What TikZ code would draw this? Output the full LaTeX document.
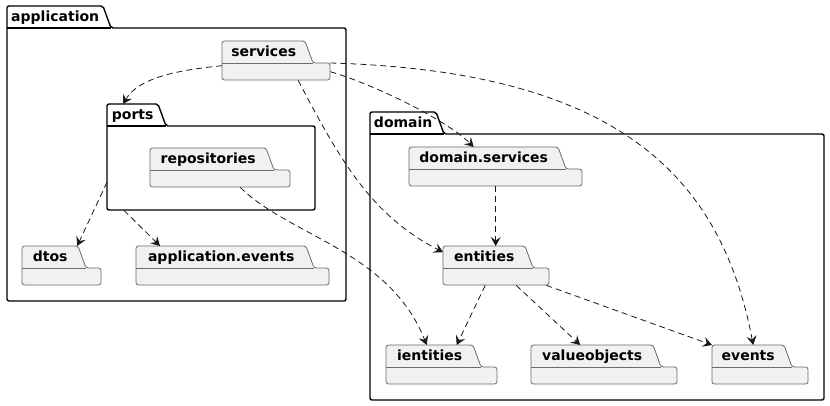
\documentclass[tikz,border=0pt]{standalone}
\usepackage{fontspec}
\setmainfont{DejaVu Sans}
\usetikzlibrary{arrows.meta}
\definecolor{pkgfill}{HTML}{F1F1F1}
\definecolor{pkgline}{HTML}{6B6B6B}
\definecolor{depline}{HTML}{181818}
% package: style, name, label, x, y (tab top), tab width, width, body height
\newcommand{\umlpkg}[8]{%
  \draw[#1] (#4,#5+22) -- (#4,#5) -- (#4+#6,#5) -- (#4+#6+8,#5+22)
    -- (#4+#7,#5+22) -- (#4+#7,#5+22+#8) -- (#4,#5+22+#8) -- cycle;
  \draw[#1, fill=none] (#4,#5+22) -- (#4+#6+8,#5+22);
  \node[pkgtab, minimum width=#6] (#2-tab) at (#4,#5) {#3};
  \node[pkgbody, minimum width=#7, minimum height=#8] (#2) at (#4,#5+22) {};
}
\begin{document}
\begin{tikzpicture}[x=1pt,y=-1pt,
    leaf/.style={draw=pkgline, fill=pkgfill, line width=0.8pt, rounded corners=2.5pt},
    group/.style={draw=black, fill=white, line width=1.4pt, rounded corners=2pt},
    pkgtab/.style={anchor=north west, inner sep=0pt, minimum height=22pt,
      text height=11pt, text depth=3pt, font=\bfseries\fontsize{14}{16}\selectfont},
    pkgbody/.style={anchor=north west, inner sep=0pt},
    dep/.style={draw=depline, line width=0.8pt, dash pattern=on 6pt off 4pt,
      -{Stealth[length=9pt,width=10pt,inset=3.5pt]}}]
  \useasboundingbox (0,0) rectangle (830,406);

  % containers
  \umlpkg{group}{application}{application}{7}{6}{96}{339}{273}
  \umlpkg{group}{ports}{ports}{107}{104}{51}{208}{84}
  \umlpkg{group}{domain}{domain}{370}{112}{66}{454}{266}

  % application packages
  \umlpkg{leaf}{services}{services}{222}{41}{83}{108}{17}
  \umlpkg{leaf}{repositories}{repositories}{150}{148}{116}{140}{17}
  \umlpkg{leaf}{dtos}{dtos}{22}{246}{56}{79}{17}
  \umlpkg{leaf}{appevents}{application.events}{136}{246}{170}{193}{17}

  % domain packages
  \umlpkg{leaf}{dservices}{domain.services}{409}{147}{149}{173}{17}
  \umlpkg{leaf}{entities}{entities}{443}{246}{82}{106}{17}
  \umlpkg{leaf}{ientities}{ientities}{386}{345}{87}{111}{17}
  \umlpkg{leaf}{valueobjects}{valueobjects}{531}{345}{122}{146}{17}
  \umlpkg{leaf}{events}{events}{712}{345}{72}{96}{17}

  % dependencies
  \draw[dep] ([yshift=6pt]services.west) .. controls +(-50,5) and +(15,-25) .. ([xshift=16pt]ports-tab.north west);
  \draw[dep] (services.east) .. controls +(50,15) and +(-25,-25) .. ([xshift=-10pt]dservices-tab.north);
  \draw[dep] ([xshift=22pt]services.south) .. controls +(42,80) and +(-72,-37) .. ([yshift=5pt]entities-tab.west);
  \draw[dep] (services.north east) .. controls +(280,8) and +(-33,-175) .. ([xshift=5pt]events-tab.north);
  \draw[dep] ([xshift=20pt]repositories.south) .. controls +(50,49) and +(-37,-94) .. ([xshift=-3pt]ientities-tab.north);
  \draw[dep] ([yshift=-14pt]ports.west) -- ([xshift=27pt]dtos-tab.north);
  \draw[dep] ([xshift=17pt]ports.south west) -- ([xshift=24pt]appevents-tab.north west);
  \draw[dep] (dservices.south) -- (dservices.south |- entities-tab.north);
  \draw[dep] ([xshift=-11pt]entities.south) -- ([xshift=27pt]ientities-tab.north);
  \draw[dep] ([xshift=20pt]entities.south) -- ([xshift=-12pt]valueobjects-tab.north);
  \draw[dep] ([xshift=-3pt]entities.south east) -- (events-tab.north west);
\end{tikzpicture}
\end{document}
